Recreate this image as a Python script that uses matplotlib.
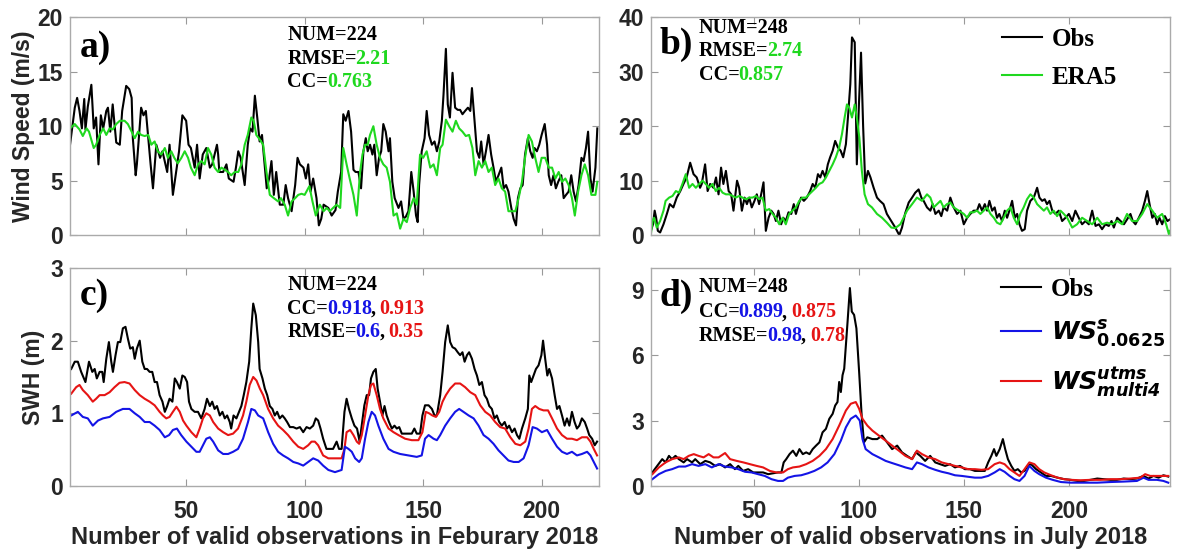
import matplotlib
matplotlib.use("Agg")
import matplotlib.pyplot as plt

plt.rcParams['mathtext.fontset'] = 'dejavusans'

# ---- panel a: wind speed, February (obs vs ERA5) ----
a_obs_x = [1, 3, 4, 5, 6, 7, 7.5, 8.5, 10, 11, 12, 13, 14, 15, 16.3, 17, 18, 19, 20.5, 22, 23, 24.7, 26, 27, 27.5,
           28.7, 29.2, 31, 32, 33, 34, 35, 36, 37.4, 39, 40, 42, 43, 44.4, 46, 47, 48.4, 50, 51, 52, 53.6, 54.6, 55.7,
           57, 58.5, 60, 61, 63, 63.5, 64, 65.6, 67, 68, 70, 71, 72, 73, 74.7, 76, 77, 78, 79, 80, 81, 82, 83, 84, 85,
           86, 87, 88, 89.5, 91, 92, 93, 94.5, 96, 97, 98, 99.5, 100.5, 101.5, 102.5, 103.6, 105, 106, 107, 108,
           110, 111.4, 113, 114, 115.4, 116.3, 117.3, 118.5, 119.6, 120.6, 121.5, 122.7, 123.8, 124.8, 125.8, 126.6,
           127.6, 128.6, 129.4, 130.4, 131.4, 132.3, 133.2, 134.2, 135.4, 136, 137, 138, 139.6, 140.7, 141.7, 142.7,
           143.8, 145, 146, 147, 147.7, 148.3, 149.4, 150.6, 151.5, 152.5, 153.7, 154.8, 155.8, 156.8, 157.9, 158.6,
           159.6, 160.4, 161.3, 162.4, 163.5, 164.6, 165.6, 166.6, 167.7, 168.9, 169.9, 170.6, 171.7, 172.7, 173.7,
           174.5, 175.5, 176.5, 177.6, 178.7, 179.7, 180.7, 181.8, 183, 184, 185, 186, 187.2, 188.2, 189.2, 190, 191,
           192, 193, 194.2, 195.2, 196.2, 197, 198, 199, 200, 201.3, 202.3, 203, 204, 205, 206, 207, 208.3, 209.3,
           210.3, 211.4, 212.5, 213.5, 214.5, 215.6, 216.8, 217.7, 218.7, 219.6, 220.6, 221.5, 222.7, 223.5]
a_obs_y = [8.3, 11.7, 12.6, 11.4, 9.8, 12.5, 9.7, 11.8, 13.8, 9.8, 10.8, 6.5, 11.0, 9.8, 11.4, 11.7, 9.5, 12.0, 8.5,
           8.3, 11.4, 13.7, 13.4, 12.6, 8.9, 5.5, 6.5, 11.7, 11.0, 11.4, 8.9, 6.5, 4.3, 8.3, 7.1, 7.7, 5.8, 8.3, 3.7,
           6.2, 7.7, 11.0, 10.5, 8.3, 8.0, 6.2, 8.3, 5.2, 7.4, 8.0, 6.2, 6.5, 8.3, 7.4, 5.8, 5.8, 6.5, 5.2, 4.9, 6.2,
           7.7, 7.1, 4.6, 8.3, 9.8, 9.5, 12.8, 10.8, 8.6, 9.2, 6.8, 4.3, 5.2, 6.8, 3.7, 5.8, 2.8, 2.8, 4.6, 3.4, 2.2,
           4.6, 7.1, 6.5, 6.2, 5.2, 6.5, 4.0, 5.2, 3.4, 0.9, 1.5, 2.8,
           2.5, 1.8, 2.3, 4.0, 5.8, 11.1, 10.5, 11.4, 9.5, 6.0, 5.8, 5.8, 4.3, 7.7, 8.9, 7.7, 8.3, 7.4, 8.3, 5.5, 7.1,
           7.7, 10.2, 9.5, 7.7, 8.9, 4.9, 3.4, 2.5, 3.1, 1.5, 1.7, 2.2, 5.8, 4.0, 1.8, 1.2, 4.6, 7.7, 8.9, 11.4, 9.2,
           8.3, 8.6, 7.7, 8.6, 10.5, 12.9, 17.1, 12.0, 10.8, 14.9, 11.7, 11.5, 11.5, 11.1, 11.4, 11.7, 11.4, 13.5,
           10.5, 7.7, 7.1, 8.6, 6.5, 7.7, 9.2, 7.4, 6.2, 4.9, 5.5, 6.2, 4.3, 4.6, 4.0, 2.5, 1.5, 0.9, 3.4, 4.3, 4.6,
           7.4, 8.9, 7.7, 7.1, 8.0, 7.7, 8.3, 9.2, 10.2, 8.3, 5.5, 4.6, 5.5, 4.3, 4.9, 5.5, 3.4, 3.7, 4.0, 5.5, 4.0,
           3.1, 4.6, 7.1, 6.8, 8.0, 9.5, 5.2, 4.0, 6.2, 9.8]
a_era_x = [1, 3, 5, 6.4, 8, 9, 11, 12, 13.5, 15, 16.3, 17.7, 19, 20.5, 22, 24, 25.4, 27, 28.3, 29.7, 31, 32.5, 34,
           35.3, 36.7, 38, 39.5, 41, 42.3, 43.7, 45, 46.5, 48, 49.4, 50.8, 52, 53.6, 55, 56.4, 57.8, 59.2, 60.6, 62,
           63.5, 64.9, 66.3, 67.7, 69, 70.5, 72, 73.3, 74.7, 76, 77.5, 78.5, 79.6, 81, 82.5, 83.9, 85.3, 87, 88.8, 90,
           91.6, 93, 94.5, 96, 97.3, 98.7, 100, 102, 103.3, 104.7, 106.4, 108, 109.3,
           110.6, 112, 113.5, 115, 116.3, 117.7, 119, 120.6, 122, 123.4, 124.4, 125.5, 126.6, 127.6, 129, 130.4,
           131.8, 133.2, 134.6, 136, 137.5, 138.9, 140.3, 141.7, 143.1, 144.5, 146, 147.3, 148.7, 150, 151.5, 153,
           154.4, 155.8, 157.2, 158.2, 159.6, 161, 162.4, 163.8, 165.2, 166.6, 168, 169.4, 170.8, 172, 173.4, 174.8,
           176.2, 177.6, 179, 180.4, 181.8, 183.2, 184.6, 186, 187.5, 188.9, 190.3, 191.7, 193, 194.5, 195.9, 197.3,
           198.7, 200, 201.5, 203, 204.4, 205.8, 207.2, 208.6, 210, 211.4, 212.8, 214, 215.4, 216.8, 218.2, 219.6,
           221, 222.7, 223.5]
a_era_y = [9.8, 10.2, 9.7, 9.1, 9.8, 9.5, 8.0, 8.3, 9.2, 9.8, 9.2, 9.8, 9.7, 10.2, 10.5, 10.5, 10.2, 9.5, 8.9, 9.5,
           9.2, 9.1, 9.2, 8.3, 8.6, 7.7, 7.4, 8.0, 7.1, 7.7, 7.1, 6.6, 7.1, 7.7, 7.1, 6.2, 5.5, 6.5, 6.8, 6.5, 8.0,
           7.4, 6.2, 5.8, 6.2, 6.0, 5.8, 5.5, 5.8, 5.8, 6.5, 8.3, 9.2, 10.8, 10.5, 9.2, 8.8, 8.3, 5.8, 3.7, 3.4, 3.1,
           3.4, 2.8, 1.8, 3.1, 3.4, 3.7, 3.8, 3.7, 4.5, 3.1, 1.8, 2.8, 2.2, 2.5,
           2.2, 2.5, 2.8, 2.5, 8.0, 6.5, 5.2, 3.7, 1.8, 5.8, 7.4, 8.3, 8.3, 9.2, 10.0, 8.3, 7.1, 6.5, 6.2, 4.9, 1.8,
           2.0, 0.6, 1.5, 1.2, 2.5, 3.4, 2.8, 7.4, 7.1, 7.7, 6.2, 6.5, 5.5, 8.0, 8.3, 10.6, 10.0, 9.5, 10.5, 9.8,
           9.5, 9.1, 9.2, 8.0, 5.5, 6.8, 6.2, 6.8, 5.8, 6.2, 4.6, 5.2, 4.3, 4.0, 2.2, 2.2, 2.2, 3.4, 4.9, 7.1, 9.2,
           8.6, 7.1, 5.8, 7.1, 7.1, 6.2, 6.2, 5.2, 5.8, 4.9, 5.2, 4.6, 3.4, 1.8, 4.0, 5.5, 6.5, 5.5, 3.7, 3.7, 4.9]

# ---- panel b: wind speed, July (obs vs ERA5) ----
b_obs_x = [1, 2, 2.8, 3.5, 4.3, 5.4, 7, 8.6, 10, 11.7, 13.3, 15, 16.5, 18, 19.7, 21.3, 22.8, 24.4, 25.2, 26.8, 28,
           29.2, 30.8, 32, 33.2, 34.4, 35.5, 36.7, 38, 39.2, 40.3, 42, 43, 44.3, 45.6, 46.7, 47.8, 49, 50.3, 51.4,
           52.5, 53.8, 54.6, 55.7, 57, 58.3, 59.4, 60.5, 61.7, 63, 64, 65.2, 66.5, 67.8, 69, 70, 71.3, 72.5, 73.8,
           75.2, 76.8, 78, 79.2, 80.5, 81.6, 82.7, 84, 85.2, 86.3, 87.5, 88.7, 90, 91.3, 92.5, 93.8, 95, 95.9, 96.7,
           98, 99, 100, 101, 102, 103, 104.3, 105.5, 107, 108.6, 110, 111.7, 113.3, 115.4, 117.3, 119.2, 120.5,
           122, 123.7, 125.3, 126.8, 128.4, 129.7, 130.8, 132.4, 134, 135.1, 136.4, 138, 139.2, 140.3, 142, 143.5,
           145.1, 146.7, 148.3, 149.9, 151.5, 153, 154.6, 156.2, 157.3, 158.6, 159.9, 161, 162.1, 163.4, 164.6,
           165.7, 166.8, 168.1, 169.4, 170.5, 171.6, 172.9, 174.2, 175.3, 176.4, 177.6, 178.9, 180, 181.6, 183.2,
           184.8, 185.9, 187.2, 188.4, 189.5, 190.7, 192, 193.5, 195.1, 196.7, 198.3, 199.9, 201.5, 203, 204.6,
           206.2, 207.8, 209.4, 211, 212.6, 214.2, 215.7, 217.3, 218.9, 220.2, 221.3, 222.9, 224.5, 226.1, 227.6,
           229.2, 230.3, 231.6, 233.2, 234.8, 236.1, 237.2, 238.3, 239.6, 240.8, 241.9, 243, 244.3, 245.6, 246.8, 248]
b_obs_y = [0.8, 2.0, 4.5, 3.2, 0.8, 0.5, 2.0, 3.9, 5.7, 5.1, 6.9, 8.1, 9.4, 10.6, 13.3, 11.2, 10.6, 8.7, 9.4, 13.0,
           8.1, 9.4, 8.7, 10.6, 7.5, 12.4, 9.4, 11.8, 8.1, 7.5, 4.5, 10.0, 8.7, 4.5, 6.9, 5.7, 6.9, 5.1, 6.3, 7.5,
           5.7, 8.1, 9.7, 0.8, 3.2, 4.5, 3.9, 2.6, 4.5, 2.0, 3.2, 2.6, 4.2, 3.9, 5.7, 3.9, 5.7, 6.9, 6.3, 6.9, 8.1,
           9.4, 8.7, 11.2, 10.6, 11.8, 10.6, 13.0, 14.3, 15.5, 17.3, 16.1, 15.5, 14.3, 16.7, 22.8, 27.7, 36.3, 35.4,
           13.0, 24.0, 33.5, 20.0, 9.5, 11.8, 10.6, 8.7, 6.9, 6.3, 5.7, 3.9, 2.6, 1.4, 0.0, 1.4,
           4.0, 6.0, 6.9, 7.8, 8.4, 6.9, 6.3, 5.1, 4.5, 5.7, 3.9, 4.5, 3.5, 5.1, 4.5, 6.9, 5.1, 3.9, 4.5, 2.0, 3.2,
           3.9, 4.5, 4.5, 5.7, 4.5, 5.7, 4.5, 6.3, 4.5, 5.1, 3.2, 3.9, 2.6, 4.5, 3.2, 4.5, 6.3, 3.2, 3.9, 2.0, 0.8,
           1.1, 4.5, 6.3, 6.9, 8.7, 6.9, 6.3, 6.6, 5.7, 6.3, 4.5, 3.9, 4.5, 2.6, 3.2, 3.9, 2.6, 4.5, 3.2, 2.0, 2.6,
           2.0, 4.5, 1.7, 2.0, 1.1, 2.0, 1.7, 2.6, 1.4, 3.2, 2.6, 2.0, 2.9, 3.9, 2.6, 2.0, 3.2, 4.5, 6.3, 8.1, 5.7,
           3.2, 3.9, 2.0, 3.2, 2.0, 3.5, 2.6, 2.9]
b_era_x = [1, 1.8, 2.5, 3.8, 5.4, 7, 8, 9.7, 11.3, 12.9, 14.4, 16, 17.6, 19.2, 20.8, 22.4, 24, 25.6, 27.1, 28.7,
           30.3, 31.9, 33.5, 35.1, 36.7, 38.3, 39.8, 41.4, 43, 44.6, 46.2, 47.8, 49.4, 51, 52.5, 54.1, 55.7, 57.3,
           58.9, 60.5, 62.1, 63.7, 65.2, 66.8, 68.4, 70, 71.6, 73.2, 74.8, 76.3, 77.9, 79.5, 81.1, 82.7, 84.3, 85.9,
           87.5, 89, 90.6, 91.9, 93.2, 94.3, 95.4, 96.7, 98, 99, 100.2, 101.4, 102.7, 104.3, 106.2, 108.6, 111,
           113.3, 115.4, 117.3, 119.7, 122.9, 125.3, 127.6, 130, 132.4, 134, 135.6, 137.2, 138.8, 140.3, 141.9,
           143.5, 145.1, 147.5, 149.9, 151.5, 153, 154.6, 156.2, 157.8, 159.4, 161, 162.6, 164.2, 165.7, 167.3,
           168.9, 170.5, 172.1, 173.7, 175.3, 176.8, 178.4, 180, 181.6, 183.2, 184.8, 186.4, 188, 189.5, 191.1,
           192.7, 194.3, 195.9, 197.5, 199.1, 201.5, 203.8, 206.2, 208.6, 211, 213.4, 215.7, 218.1, 220.5, 222.9,
           225.3, 227.6, 230, 232.4, 234.8, 237.2, 239.6, 241.9, 244.3, 246.2, 247.5, 248]
b_era_y = [0.2, 2.6, 3.2, 1.4, 2.6, 4.5, 6.3, 6.9, 7.2, 8.1, 7.8, 9.4, 11.2, 8.7, 9.4, 8.7, 9.4, 10.0, 9.4, 8.7,
           9.4, 8.1, 8.7, 7.8, 7.5, 7.5, 7.2, 6.9, 7.2, 6.9, 6.6, 6.9, 6.9, 7.2, 6.6, 6.9, 4.5, 4.8, 3.9, 3.2, 2.0,
           3.2, 2.0, 3.9, 4.5, 5.1, 6.3, 6.9, 6.9, 7.5, 8.1, 8.7, 9.4, 9.7, 10.6, 11.8, 13.0, 14.3, 16.1, 18.5, 21.6,
           24.0, 23.4, 21.6, 24.0, 21.6, 17.9, 11.8, 7.5, 5.7, 5.1, 3.9, 3.2, 2.3, 1.4, 1.3, 2.0, 4.5, 5.7, 6.9,
           6.3, 7.5, 6.9, 5.1, 5.7, 6.3, 5.1, 5.7, 6.0, 5.1, 4.5, 3.9, 3.2, 4.2, 4.2, 4.5, 3.9, 4.5, 5.1, 3.9, 3.2,
           2.3, 2.0, 3.2, 4.5, 5.1, 3.2, 2.0, 3.9, 5.1, 6.6, 7.5, 6.9, 5.7, 5.1, 4.5, 5.1, 3.9, 4.5, 3.5, 4.5, 3.9,
           3.2, 1.4, 2.0, 3.2, 2.6, 2.0, 3.2, 2.0, 2.3, 2.0, 2.6, 2.0, 3.9, 2.6, 2.6, 3.9, 5.7, 4.5, 3.2, 3.9, 2.0,
           0.2, 0.8]

# ---- panel c: SWH, February ----
c_obs_x = [1.5, 3, 4.3, 5.7, 7.5, 9, 10.4, 11.4, 12.3, 13.5, 14.6, 15.2, 16.3, 17.4, 18.4, 19.1, 20.2, 21.2, 22.2,
           23.3, 24.4, 25.4, 26.4, 27.5, 28.3, 29.2, 30.4, 31.5, 32.5, 33.5, 34.6, 35.7, 36.7, 37.7, 38.8, 40, 41,
           42, 43, 44.2, 45.2, 46.1, 47.3, 48.4, 49.4, 50.4, 51.2, 52.2, 53.6, 55, 56.4, 57.8, 58.8, 60, 61, 62, 63,
           64.2, 65.3, 66.3, 67.3, 68.4, 69, 70, 71.2, 72.3, 73.3, 74.3, 75.4, 76.6, 77.5, 78.3, 79.4, 80.4, 81,
           82.2, 83.2, 84.2, 85.3, 86.4, 87.4, 88.4, 89.5, 90.6, 91.6, 92.6, 93.8, 95.2, 96.6, 98, 99.4, 100.8,
           102.2, 103.6, 104.7, 105.7, 106.7, 107.8, 109.2,
           110, 112, 113.5, 114.5, 115.6, 116.8, 117.7, 118.7, 119.9, 121, 122.1, 123.2, 124.1, 125.2, 126.2,
           127.2, 128, 129, 130, 130.8, 131.8, 132.8, 133.7, 134.6, 135.6, 136.8, 137.9, 138.9, 139.9, 141, 143,
           145.2, 146.3, 147.3, 148.7, 149.7, 150.8, 152.3, 153.7, 154.8, 155.8, 157.2, 158.2, 159.3, 160.4, 161.4,
           162.4, 163.5, 164.6, 165.6, 166.6, 167.5, 168.5, 169.4, 170.6, 171.7, 172.7, 173.7, 174.8, 175.9, 176.9,
           177.9, 179, 180.1, 181.1, 182.1, 183.2, 184.4, 185.4, 186.3, 187.5, 188.6, 189.6, 190.6, 191.7, 193.1,
           194.2, 194.8, 195.6, 196.6, 197.6, 198.7, 199.9, 200.6, 201.5, 202.4, 203.2, 204.4, 205.5, 206.5, 207.5,
           208.6, 209.7, 210.7, 211.7, 212.8, 213.9, 214.9, 215.9, 217, 218.2, 219.2, 220.1, 221.3, 222.4, 223.4]
c_obs_y = [1.61, 1.71, 1.71, 1.57, 1.43, 1.71, 1.57, 1.61, 1.48, 1.57, 1.57, 1.43, 1.75, 1.98, 1.71, 1.57, 1.80,
           1.98, 1.98, 2.17, 2.19, 2.03, 1.89, 1.91, 1.75, 1.89, 2.0, 1.71, 1.61, 1.61, 1.57, 1.57, 1.43, 1.43, 1.25,
           1.16, 1.02, 1.1, 1.2, 1.16, 1.48, 1.43, 1.34, 1.52, 1.50, 1.43, 1.16, 1.06, 1.02, 1.02, 0.93, 1.06, 1.2,
           1.1, 1.16, 1.06, 1.1, 0.97, 1.02, 0.93, 0.97, 0.88, 0.79, 0.97, 0.93, 1.02, 1.1, 1.25, 1.43, 1.71, 2.17,
           2.51, 2.35, 1.98, 1.61, 1.48, 1.34, 1.25, 1.1, 1.06, 0.97, 1.02, 0.93, 0.97, 0.93, 0.88, 0.81, 0.81,
           0.79, 0.81, 0.74, 0.81, 0.79, 0.83, 0.93, 0.9, 0.79, 0.65, 0.51,
           0.51, 0.51, 0.61, 0.51, 0.51, 1.02, 1.20, 1.06, 0.93, 0.83, 0.79, 0.61, 0.83, 1.11, 1.25, 1.25, 1.48,
           1.57, 1.61, 1.34, 1.16, 0.97, 1.1, 0.97, 0.88, 0.79, 0.83, 0.79, 0.81, 0.72, 0.72, 0.72, 0.79, 0.72,
           0.72, 0.97, 1.11, 1.11, 1.06, 0.97, 0.97, 1.25, 1.57, 1.98, 2.21, 1.98, 1.91, 1.89, 1.84, 1.80, 1.84,
           1.71, 1.80, 1.84, 1.75, 1.61, 1.52, 1.39, 1.43, 1.25, 1.20, 1.1, 1.06, 0.93, 0.97, 0.88, 0.83, 0.88,
           0.79, 0.83, 0.74, 0.79, 0.70, 0.65, 0.79, 0.93, 1.06, 1.52, 1.43, 1.52, 1.61, 1.66, 1.80, 2.0, 1.75,
           1.52, 1.61, 1.48, 1.25, 1.06, 1.1, 0.97, 0.83, 0.93, 0.83, 1.02, 0.88, 0.79, 0.83, 0.93, 0.88, 0.79,
           0.70, 0.65, 0.56, 0.61]
c_multi_x = [1.5, 3.6, 5, 6.4, 8.5, 10.6, 12, 13.5, 15.6, 17.7, 19.8, 21.9, 24, 26.1, 28.3, 30.4, 32.5, 34.6, 36.7,
             38.8, 40.2, 41.6, 43, 44.4, 45.9, 47.3, 48.7, 50.1, 52.2, 54.3, 55.7, 57.1, 58.5, 60, 61.4, 63.5, 65.6,
             67.7, 69.8, 71.9, 74, 75.4, 76.8, 78.3, 79.7, 81.1, 82.5, 84.6, 86.7, 88.8, 90.9, 93, 95.2, 97.3, 99.4,
             101.5, 102.9, 104.3, 105.7, 107.8, 110, 112.8, 115.6, 116.8, 117.7, 119.2, 120.6, 122, 123, 124.1,
             125.5, 126.9, 128, 129, 130.4, 131.8, 133.2, 135.4, 137.5, 139.6, 142.4, 145.2, 148, 149.7, 151.1,
             152.5, 153.9, 155.4, 156.8, 158.2, 159.6, 161.4, 163.5, 165.6, 167.7, 169.9, 172, 174.1, 176.2, 178.3,
             180.4, 182.5, 184.6, 186.8, 188.9, 191, 193.1, 194.5, 195.9, 197.3, 199, 200.8, 202.7, 204.4, 206.5,
             208.6, 210.7, 212.8, 214.9, 217, 219.2, 220.6, 222, 223.4]
c_multi_y = [1.27, 1.36, 1.39, 1.32, 1.25, 1.16, 1.20, 1.25, 1.25, 1.29, 1.36, 1.42, 1.43, 1.41, 1.32, 1.25, 1.20,
             1.16, 1.11, 1.02, 0.97, 0.93, 0.95, 1.02, 1.09, 1.02, 0.90, 0.83, 0.74, 0.67, 0.79, 0.93, 1.0, 0.97,
             0.88, 0.79, 0.74, 0.70, 0.72, 0.79, 0.97, 1.16, 1.39, 1.50, 1.45, 1.34, 1.25, 1.06, 0.93, 0.83, 0.77,
             0.70, 0.61, 0.54, 0.51, 0.56, 0.61, 0.61, 0.56, 0.42, 0.38, 0.38, 0.38, 0.51, 0.74, 0.77, 0.70, 0.61,
             0.58, 0.70, 0.97, 1.25, 1.39, 1.41, 1.25, 1.06, 0.93, 0.79, 0.74, 0.70, 0.65, 0.63, 0.63, 0.74, 1.02,
             1.0, 0.97, 0.95, 1.02, 1.16, 1.25, 1.34, 1.41, 1.41, 1.36, 1.29, 1.25, 1.11, 1.02, 0.97, 0.88, 0.81,
             0.79, 0.67, 0.58, 0.56, 0.61, 0.79, 1.06, 1.1, 1.06, 1.04, 1.04, 0.93, 0.79, 0.70, 0.65, 0.65, 0.63,
             0.67, 0.67, 0.61, 0.51, 0.42]
c_single_x = [1.5, 4.3, 6.4, 8.5, 10.6, 12.8, 14.9, 17.7, 20.5, 23.3, 26.1, 28.3, 30.4, 32.5, 34.6, 36.7, 38.8, 41,
              42.8, 44.4, 46.1, 47.9, 50.1, 52.2, 54.3, 55.7, 57.1, 58.5, 60, 61.4, 63.5, 65.6, 67.7, 69.8, 71.9,
              74, 76.1, 77.5, 79, 80.4, 82.5, 84.6, 86.7, 88.8, 90.9, 93, 95.2, 97.3, 99.4, 101.5, 103.6, 105.7,
              107.8, 110, 112.8, 115.6, 117, 118.5, 119.9, 121.3, 123, 124.1, 125.5, 126.9, 128.3, 129.7, 131.1,
              133.2, 135.4, 137.5, 140.3, 143.8, 147.3, 149.4, 150.8, 152.3, 154.4, 155.8, 157.2, 159.3, 161.4,
              163.5, 165.2, 167, 169.2, 171.3, 173.4, 175.5, 177.6, 179.7, 181.8, 183.9, 186, 188.2, 190.3, 192.4,
              194.5, 196.2, 198, 200.1, 202.3, 204.4, 206.5, 208.6, 210.7, 212.8, 214.9, 217, 219.2, 220.6, 222,
              223.4]
c_single_y = [0.97, 1.02, 0.95, 0.93, 0.83, 0.90, 0.93, 0.95, 1.02, 1.06, 1.06, 1.0, 0.95, 0.88, 0.88, 0.83, 0.77,
              0.67, 0.70, 0.77, 0.79, 0.70, 0.61, 0.54, 0.47, 0.47, 0.56, 0.65, 0.67, 0.61, 0.49, 0.44, 0.44, 0.47,
              0.51, 0.65, 0.88, 1.06, 1.04, 0.97, 0.93, 0.74, 0.58, 0.47, 0.42, 0.38, 0.33, 0.31, 0.28, 0.33, 0.38,
              0.35, 0.28, 0.22, 0.19, 0.22, 0.54, 0.51, 0.47, 0.38, 0.33, 0.38, 0.65, 0.88, 1.02, 0.97, 0.83, 0.65,
              0.51, 0.47, 0.44, 0.42, 0.40, 0.42, 0.65, 0.70, 0.65, 0.63, 0.70, 0.83, 0.93, 1.02, 1.06, 1.02, 0.97,
              0.93, 0.83, 0.70, 0.65, 0.58, 0.49, 0.42, 0.35, 0.33, 0.33, 0.38, 0.56, 0.81, 0.79, 0.74, 0.77, 0.65,
              0.54, 0.47, 0.44, 0.47, 0.42, 0.44, 0.47, 0.42, 0.33, 0.24]

# ---- panel d: SWH, July ----
d_obs_x = [1.7, 4, 6.4, 8, 9.6, 11, 12.7, 14.3, 16.6, 18.2, 20.6, 22.1, 24.5, 26.9, 29.2, 31.6, 34, 36.3, 38.7, 41,
           42.6, 44.9, 47.3, 49.7, 52, 54.4, 56.8, 59.1, 61.5, 63.1, 64.2, 65.4, 67, 68.6, 70.2, 71.7, 73.3, 74.9,
           76.5, 78, 79.6, 81.2, 82.7, 84.3, 85.9, 87.5, 88.7, 89.8, 90.6, 91.4, 92.2, 93, 93.8, 94.6, 95.7, 96.6,
           97.7, 98.8, 100.1, 101.3, 102.4, 104, 106.4, 108.7, 111, 113.4, 115.8, 118.2, 120.5, 122.9, 125.3, 127.1,
           129.2, 131.5, 133.9, 136.3, 138.6, 141, 143.4, 145.7, 148.1, 150.4, 152.8, 155.2, 157.5, 159.9, 161.5,
           163, 164.3, 165.4, 167, 168.5, 169.6, 170.9, 172.5, 174, 175.6, 177.2, 178.8, 180.3, 181.9, 184.3, 186.6,
           189, 191.4, 194.5, 197.7, 200.8, 204, 207.1, 210.2, 213.4, 216.5, 219.7, 222.8, 226, 229.1, 232.3, 235.4,
           237.8, 240.2, 242.6, 244.9, 247.2]
d_obs_y = [0.62, 0.92, 1.23, 1.08, 1.38, 1.23, 1.38, 1.23, 1.08, 1.23, 1.08, 1.23, 1.0, 1.15, 1.08, 0.92, 1.0,
           0.85, 1.0, 0.77, 0.92, 0.69, 0.77, 0.62, 0.62, 0.62, 0.54, 0.58, 0.62, 0.62, 1.08, 1.23, 1.46, 1.62,
           1.38, 1.69, 1.46, 1.54, 1.46, 1.69, 1.85, 2.0, 2.46, 2.62, 3.08, 3.31, 3.69, 3.85, 4.77, 4.31, 5.08, 5.38,
           6.46, 7.54, 9.08, 8.0, 7.85, 7.23, 5.23, 3.23, 2.0, 2.23, 2.15, 2.15, 2.31, 2.0, 1.69, 1.85, 1.54, 1.38,
           1.23, 1.54, 1.38, 1.15, 1.38, 1.08, 1.0, 0.92, 1.0, 0.85, 0.92, 0.77, 0.77, 0.69, 0.69, 0.69, 1.08, 1.38,
           1.69, 1.38, 1.69, 2.15, 1.69, 1.23, 0.92, 0.69, 0.77, 0.62, 0.69, 0.92, 1.0, 0.77, 0.62, 0.46, 0.46, 0.38,
           0.31, 0.28, 0.23, 0.23, 0.28, 0.34, 0.31, 0.28, 0.28, 0.34, 0.31, 0.34, 0.46, 0.34, 0.46, 0.38, 0.49, 0.43]
d_multi_x = [1.7, 4.8, 8, 11.1, 14.3, 16.6, 19, 21.4, 23.7, 26.1, 28.5, 30.8, 33.2, 36.3, 38.7, 41.8, 45, 48.1,
             51.3, 54.4, 57.6, 60.7, 63.9, 66.2, 68.6, 71.7, 74.9, 78, 81.2, 84.3, 87.5, 90.6, 93.8, 96.1, 98.5,
             100.1, 101.7, 104, 106.4, 109.5, 112.7, 115.8, 119, 122.1, 125.3, 127.6, 130, 133.1, 136.3, 139.4,
             142.6, 145.7, 148.9, 152, 155.2, 158.3, 161.5, 164.6, 167, 169.3, 171.7, 174, 176.4, 178.8, 181.1,
             183.5, 185.8, 188.2, 191.4, 194.5, 197.7, 200.8, 205.5, 210.2, 215, 219.7, 224.4, 229.1, 233.9, 236.2,
             238.6, 242.5, 247.2]
d_multi_y = [0.54, 0.85, 1.08, 1.23, 1.31, 1.23, 1.38, 1.46, 1.38, 1.31, 1.46, 1.31, 1.31, 1.51, 1.23, 1.15, 1.08,
             1.0, 0.92, 0.85, 0.69, 0.62, 0.62, 0.77, 0.85, 0.89, 1.0, 1.15, 1.38, 1.69, 2.15, 2.77, 3.46, 3.77,
             3.85, 3.54, 3.08, 2.77, 2.54, 2.31, 2.08, 1.85, 1.62, 1.38, 1.23, 1.62, 1.46, 1.31, 1.23, 1.08, 1.0,
             0.92, 0.85, 0.77, 0.77, 0.74, 0.77, 1.0, 1.08, 1.0, 0.77, 0.62, 0.46, 0.77, 1.08, 1.0, 0.77, 0.62, 0.49,
             0.38, 0.31, 0.28, 0.26, 0.28, 0.28, 0.31, 0.31, 0.34, 0.38, 0.54, 0.46, 0.46, 0.46]
d_single_x = [1.7, 4.8, 8, 11.1, 14.3, 17.4, 20.6, 23.7, 26.9, 30, 33.2, 36.3, 39.5, 42.6, 45.8, 48.9, 52, 55.2,
              58.4, 61.5, 63.9, 66.2, 69.4, 72.5, 75.7, 78.8, 82, 85.1, 88.3, 91.4, 93.8, 96.1, 98.5, 100.4, 101.7,
              103.2, 106.4, 109.5, 112.7, 115.8, 119, 122.1, 125.3, 127.6, 130, 133.1, 136.3, 139.4, 142.6, 145.7,
              148.9, 152, 155.2, 158.3, 161.5, 164.6, 167, 169.3, 171.7, 174, 176.4, 178.8, 181.1, 183.5, 185.8,
              189, 192.2, 196.1, 200.8, 207.1, 213.4, 219.7, 226, 232.3, 235.4, 237.8, 241.8, 244.9, 247.2]
d_single_y = [0.31, 0.54, 0.69, 0.77, 0.89, 0.89, 1.0, 0.92, 1.0, 0.85, 1.0, 0.89, 0.85, 0.77, 0.65, 0.62, 0.54,
              0.46, 0.31, 0.23, 0.23, 0.38, 0.46, 0.49, 0.58, 0.69, 0.85, 1.08, 1.46, 2.08, 2.69, 3.08, 3.23, 3.0,
              2.15, 1.69, 1.46, 1.31, 1.15, 1.05, 0.95, 0.85, 0.77, 1.08, 1.0, 0.85, 0.74, 0.65, 0.58, 0.49, 0.46,
              0.42, 0.38, 0.38, 0.46, 0.62, 0.77, 0.65, 0.46, 0.31, 0.23, 0.46, 0.92, 0.69, 0.54, 0.38, 0.28, 0.18,
              0.15, 0.15, 0.15, 0.18, 0.2, 0.23, 0.38, 0.28, 0.28, 0.23, 0.15]

GREEN = '#1fd81f'
BLUE = '#1414e6'
RED = '#e61414'
SERIF = 'Liberation Serif'
SANS = 'Liberation Sans'

fig = plt.figure(figsize=(11.77, 5.56), dpi=100)
ax_a = fig.add_axes([0.0595, 0.577, 0.449, 0.392])
ax_b = fig.add_axes([0.553, 0.577, 0.441, 0.392])
ax_c = fig.add_axes([0.0595, 0.126, 0.449, 0.392])
ax_d = fig.add_axes([0.553, 0.126, 0.441, 0.392])


def style(ax, xmax, ylim, yticks, bottom):
    ax.set_xlim(1, xmax)
    ax.set_ylim(*ylim)
    ax.set_xticks([50, 100, 150, 200])
    ax.set_yticks(yticks)
    ax.tick_params(direction='in', top=True, right=True, length=5, width=0.8,
                   color='#999999', labelcolor='#262626', labelsize=16.5)
    ax.tick_params(axis='x', pad=10)
    ax.tick_params(axis='y', pad=5)
    for lab in ax.get_xticklabels() + ax.get_yticklabels():
        lab.set_family(SANS)
        lab.set_fontweight('bold')
    if not bottom:
        ax.set_xticklabels([])
    for sp in ax.spines.values():
        sp.set_color('#aaaaaa')
        sp.set_linewidth(1.0)


def rainbow(ax, x, y, parts, size=14.5):
    t = ax.text(x, y, parts[0][0], color=parts[0][1], transform=ax.transAxes, fontsize=size,
                fontweight='bold', family=SERIF, va='center', ha='left')
    for s, c in parts[1:]:
        t = ax.annotate(s, xy=(1, 0), xycoords=t, xytext=(-0.8, 0), textcoords='offset points',
                        color=c, fontsize=size, fontweight='bold', family=SERIF, va='bottom', ha='left')


def panel_label(ax, x, y, s):
    ax.text(x, y, s, transform=ax.transAxes, fontsize=27, fontweight='bold', family=SERIF,
            va='center', ha='left')


LEG = dict(loc='upper left', frameon=False, handlelength=1.6, handletextpad=0.4,
           borderpad=0, borderaxespad=0, prop={'family': SERIF, 'weight': 'bold', 'size': 18})

# a
ax_a.plot(a_obs_x, a_obs_y, color='k', lw=1.5)
ax_a.plot(a_era_x, a_era_y, color=GREEN, lw=1.5)
style(ax_a, 224, (0, 20), [0, 5, 10, 15, 20], False)
ax_a.set_ylabel('Wind Speed (m/s)', fontsize=16.5, fontweight='bold', family=SANS, color='#262626', labelpad=2)
panel_label(ax_a, 0.018, 0.862, 'a)')
rainbow(ax_a, 0.411, 0.917, [('NUM=224', 'k')])
rainbow(ax_a, 0.411, 0.810, [('RMSE=', 'k'), ('2.21', GREEN)])
rainbow(ax_a, 0.411, 0.702, [('CC=', 'k'), ('0.763', GREEN)])

# b
ax_b.plot(b_obs_x, b_obs_y, color='k', lw=1.5, label='Obs')
ax_b.plot(b_era_x, b_era_y, color=GREEN, lw=1.5, label='ERA5')
style(ax_b, 248, (0, 40), [0, 10, 20, 30, 40], False)
panel_label(ax_b, 0.016, 0.875, 'b)')
rainbow(ax_b, 0.0925, 0.952, [('NUM=248', 'k')])
rainbow(ax_b, 0.0925, 0.843, [('RMSE=', 'k'), ('2.74', GREEN)])
rainbow(ax_b, 0.0925, 0.733, [('CC=', 'k'), ('0.857', GREEN)])
ax_b.legend(bbox_to_anchor=(0.676, 0.952), labelspacing=0.6, **LEG)

# c
ax_c.plot(c_obs_x, c_obs_y, color='k', lw=1.5)
ax_c.plot(c_multi_x, c_multi_y, color=RED, lw=1.5)
ax_c.plot(c_single_x, c_single_y, color=BLUE, lw=1.5)
style(ax_c, 224, (0, 3), [0, 1, 2, 3], True)
ax_c.set_ylabel('SWH (m)', fontsize=16.5, fontweight='bold', family=SANS, color='#262626', labelpad=4)
ax_c.set_xlabel('Number of valid observations in Feburary 2018', fontsize=17, fontweight='bold',
                family=SANS, color='#262626', labelpad=2)
panel_label(ax_c, 0.018, 0.876, 'c)')
rainbow(ax_c, 0.411, 0.922, [('NUM=224', 'k')])
rainbow(ax_c, 0.411, 0.813, [('CC=', 'k'), ('0.918', BLUE), (', ', 'k'), ('0.913', RED)])
rainbow(ax_c, 0.411, 0.706, [('RMSE=', 'k'), ('0.6', BLUE), (', ', 'k'), ('0.35', RED)])

# d
ax_d.plot(d_obs_x, d_obs_y, color='k', lw=1.5, label='Obs')
ax_d.plot(d_single_x, d_single_y, color=BLUE, lw=1.5, label=r'$\mathbfit{WS}^{\mathbfit{s}}_{\mathbf{0.0625}}$')
ax_d.plot(d_multi_x, d_multi_y, color=RED, lw=1.5, label=r'$\mathbfit{WS}^{\mathbfit{utms}}_{\mathbfit{multi4}}$')
style(ax_d, 248, (0, 10), [0, 3, 6, 9], True)
ax_d.set_xlabel('Number of valid observations in July 2018', fontsize=17, fontweight='bold',
                family=SANS, color='#262626', labelpad=2)
panel_label(ax_d, 0.016, 0.87, 'd)')
rainbow(ax_d, 0.0925, 0.913, [('NUM=248', 'k')])
rainbow(ax_d, 0.0925, 0.797, [('CC=', 'k'), ('0.899', BLUE), (', ', 'k'), ('0.875', RED)])
rainbow(ax_d, 0.0925, 0.688, [('RMSE=', 'k'), ('0.98', BLUE), (', ', 'k'), ('0.78', RED)])
ax_d.legend(bbox_to_anchor=(0.674, 0.955), labelspacing=0.68, **LEG)

fig.savefig('out.png', dpi=100)
